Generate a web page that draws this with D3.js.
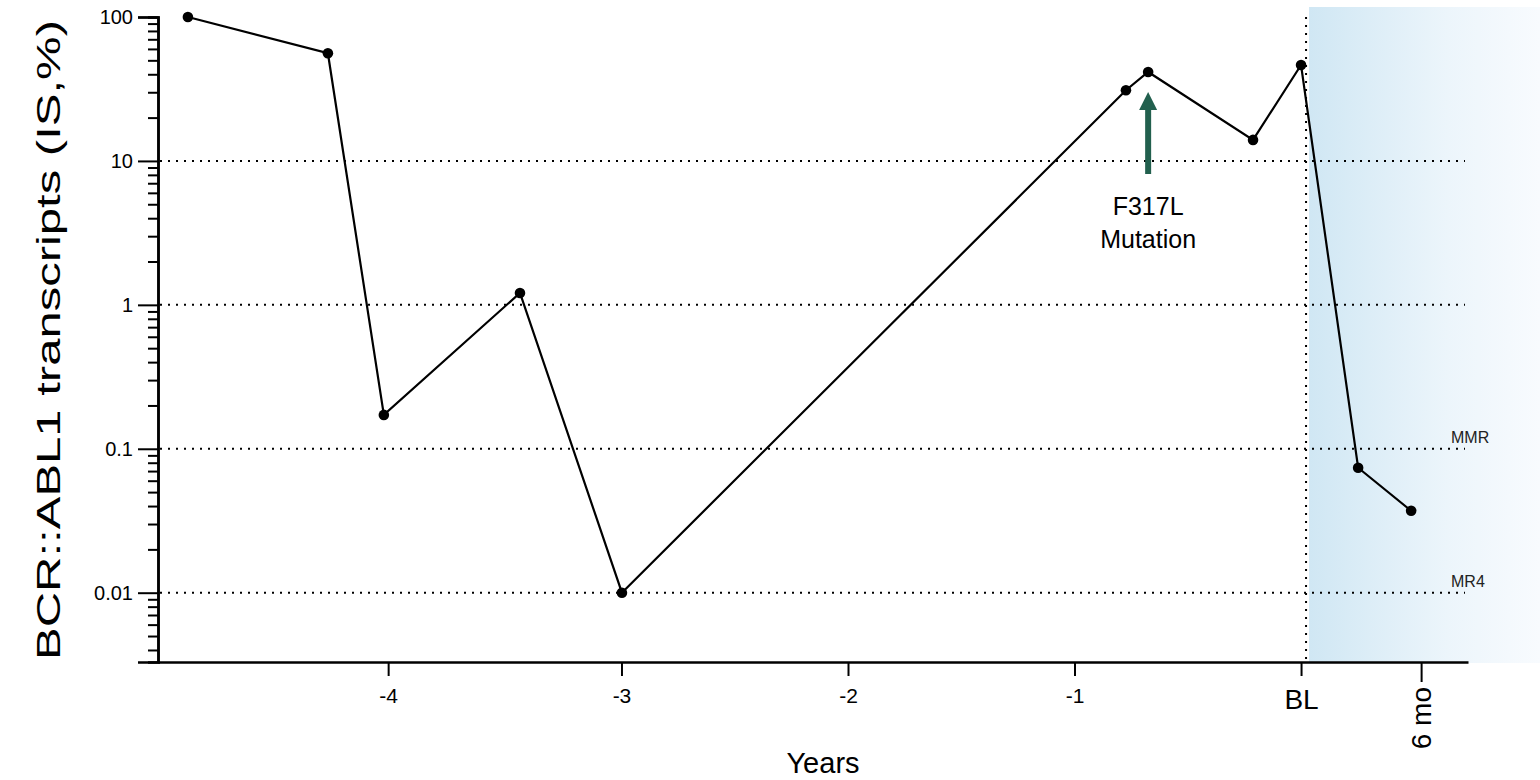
<!DOCTYPE html>
<html><head><meta charset="utf-8">
<script src="https://cdn.jsdelivr.net/npm/d3@7"></script>
<style>body{margin:0;background:#fff}svg{display:block;font-family:"Liberation Sans",Arial,sans-serif}</style>
</head><body><svg id="c" width="1540" height="780"></svg>
<script>
const years = [-4.914,-4.296,-4.049,-3.448,-2.998,-0.773,-0.675,-0.212,0,0.252,0.486];
const values = [100,56,0.172,1.21,0.01,31,41.5,14,46.4,0.0738,0.0371];
const xTickValues = [-4.03,-3,-2,-1,0,0.53];
const xTickLabels = ["-4","-3","-2","-1","BL","6 mo"];
const yTickValues = [100,10,1,0.1,0.01];
const yTickLabels = ["100","10","1","0.1","0.01"];
const gridValues = [10,1,0.1,0.01];
const refLabels = [{v:0.1,t:"MMR"},{v:0.01,t:"MR4"}];
const mutationYear = -0.675;

const svg = d3.select("#c");
const x = d3.scaleLinear().domain([-5.046,0.737]).range([158,1468]);
const y = d3.scaleLog().domain([0.0033,100]).range([662,17]);

// shaded treatment region
const defs = svg.append("defs");
const grad = defs.append("linearGradient").attr("id","shade").attr("x1","0").attr("x2","1").attr("y1","0").attr("y2","0");
grad.append("stop").attr("offset","0").attr("stop-color","#d0e7f4");
grad.append("stop").attr("offset","0.6").attr("stop-color","#ecf5fb");
grad.append("stop").attr("offset","1").attr("stop-color","#f8fbfe");
svg.append("rect").attr("x",x(0)+8).attr("y",7).attr("width",1540-(x(0)+8)).attr("height",y(0.0033)-7+1).attr("fill","url(#shade)");

// grid lines
svg.append("g").selectAll("line").data(gridValues).join("line")
  .attr("x1",x.range()[0]+2).attr("x2",1465).attr("y1",d=>y(d)).attr("y2",d=>y(d))
  .attr("stroke","#000").attr("stroke-width",2).attr("stroke-dasharray","2,6");
// baseline vertical dotted
svg.append("line").attr("x1",x(0)+5).attr("x2",x(0)+5).attr("y1",17).attr("y2",662)
  .attr("stroke","#000").attr("stroke-width",2).attr("stroke-dasharray","2,6");

// ref labels
svg.append("g").selectAll("text").data(refLabels).join("text")
  .attr("x",1451).attr("y",d=>y(d.v)-6).attr("font-size",16).attr("fill","#222").text(d=>d.t);

// y axis
const yMinor = [];
for (let e=-3;e<2;e++) for (let k=2;k<=9;k++){const v=k*Math.pow(10,e); if(v>=0.0033&&v<=100) yMinor.push(v);}
const gy = svg.append("g").attr("transform","translate(158,0)");
gy.call(d3.axisLeft(y).tickValues(yMinor).tickSize(10).tickFormat(""));
gy.append("g").call(d3.axisLeft(y).tickValues(yTickValues).tickSize(20).tickFormat((d,i)=>yTickLabels[i]));
gy.selectAll("path.domain").attr("stroke-width",2.5);
gy.selectAll(".tick line").attr("stroke-width",2);
gy.selectAll(".tick text").attr("font-size",20).attr("fill","#000").attr("x",-25);

// x axis
const gx = svg.append("g").attr("transform","translate(0,662)");
gx.call(d3.axisBottom(x).tickValues(xTickValues).tickSize(14).tickSizeOuter(0).tickFormat((d,i)=>xTickLabels[i]));
gx.select("path.domain").attr("stroke-width",2.5);
gx.selectAll(".tick line").attr("stroke-width",2).attr("y2",(d,i)=>i===5?20:14);
gx.selectAll(".tick text").attr("font-size",(d,i)=>i>=4?28:21).attr("fill","#000").attr("y",(d,i)=>i>=4?27:26);
gx.selectAll(".tick").filter((d,i)=>i===5).select("text")
  .attr("transform","rotate(-90)").attr("text-anchor","end").attr("x",-25).attr("y",0).attr("dy","0.35em");

// data line
svg.append("path").datum(years.map((d,i)=>[d,values[i]]))
  .attr("fill","none").attr("stroke","#000").attr("stroke-width",2.2)
  .attr("d",d3.line().x(d=>x(d[0])).y(d=>y(d[1])));
svg.append("g").selectAll("circle").data(years.map((d,i)=>[d,values[i]])).join("circle")
  .attr("cx",d=>x(d[0])).attr("cy",d=>y(d[1])).attr("r",5.3).attr("fill","#000");

// mutation arrow
const ax = x(mutationYear);
svg.append("line").attr("x1",ax).attr("x2",ax).attr("y1",174).attr("y2",106).attr("stroke","#22604e").attr("stroke-width",6);
svg.append("path").attr("d",`M${ax},92 L${ax-9},110 L${ax+9},110 Z`).attr("fill","#22604e");
svg.append("text").attr("x",ax).attr("y",215).attr("text-anchor","middle").attr("font-size",25).text("F317L");
svg.append("text").attr("x",ax).attr("y",248).attr("text-anchor","middle").attr("font-size",25).text("Mutation");

// axis titles
svg.append("text").attr("transform","translate(60,340) rotate(-90)").attr("text-anchor","middle")
  .attr("font-size",34).attr("textLength",640).attr("lengthAdjust","spacingAndGlyphs").text("BCR::ABL1 transcripts (IS,%)");
svg.append("text").attr("x",823).attr("y",773).attr("text-anchor","middle").attr("font-size",29).text("Years");
</script></body></html>
